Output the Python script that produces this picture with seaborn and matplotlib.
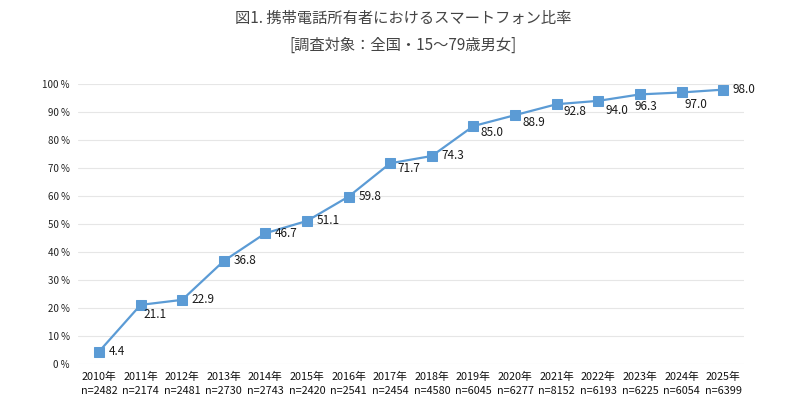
import numpy as np
import pandas as pd
import matplotlib
matplotlib.use("Agg")
import matplotlib.pyplot as plt
import seaborn as sns

years = [str(y) for y in range(2010, 2026)]
sample_sizes = [2482, 2174, 2481, 2730, 2743, 2420, 2541, 2454,
                4580, 6045, 6277, 8152, 6193, 6225, 6054, 6399]
smartphone_pct = [4.4, 21.1, 22.9, 36.8, 46.7, 51.1, 59.8, 71.7,
                  74.3, 85.0, 88.9, 92.8, 94.0, 96.3, 97.0, 98.0]

title_lines = ["図1. 携帯電話所有者におけるスマートフォン比率",
               "[調査対象：全国・15〜79歳男女]"]

sns.set_style("white")
plt.rcParams["font.family"] = ["Noto Sans CJK JP", "DejaVu Sans"]

df = pd.DataFrame({"idx": np.arange(len(years)), "pct": smartphone_pct})

fig = plt.figure(figsize=(8.06, 4.08), dpi=100)
ax = fig.add_axes([0.097, 0.108, 0.826, 0.686])

line_color = "#5B9BD5"
sns.lineplot(data=df, x="idx", y="pct", ax=ax, color=line_color,
             linewidth=1.6, marker="s", markersize=7,
             markeredgecolor=line_color, clip_on=False, zorder=3)

# label offsets (points): mostly right of marker, a few tucked below
offsets = [(7, 0), (2, -7), (7, 0), (7, 0), (7, 0), (7, 0), (7, 0), (5, -4),
           (7, 0), (5, -5), (5, -5), (5, -5), (5, -7), (4, -9), (2, -9), (7, 0)]
align = ["left"] * 13 + ["center", "left", "left"]
for i, v in enumerate(smartphone_pct):
    dx, dy = offsets[i]
    ax.annotate(f"{v:.1f}", (i, v), xytext=(dx, dy), textcoords="offset points",
                ha=align[i], va="center", fontsize=8.5, color="#1a1a1a")

ax.set_xlim(-0.5, len(years) - 0.5)
ax.set_ylim(0, 100)
ax.set_yticks(range(0, 101, 10))
ax.set_yticklabels([f"{t} %" for t in range(0, 101, 10)], fontsize=7,
                   color="#222222")
ax.set_xticks(df["idx"])
ax.set_xticklabels([f"{y}年\nn={n}" for y, n in zip(years, sample_sizes)],
                   fontsize=7.8, color="#111111", linespacing=1.45)
ax.tick_params(axis="both", length=0, pad=6)
ax.yaxis.grid(True, color="#e6e6e6", linewidth=0.8)
ax.set_axisbelow(True)
for s in ax.spines.values():
    s.set_visible(False)
ax.set_xlabel("")
ax.set_ylabel("")

fig.text(0.5, 0.955, title_lines[0], ha="center", va="center", fontsize=11,
         color="#444444")
fig.text(0.5, 0.89, title_lines[1], ha="center", va="center", fontsize=11,
         color="#444444")

fig.savefig("out.png", dpi=100)
